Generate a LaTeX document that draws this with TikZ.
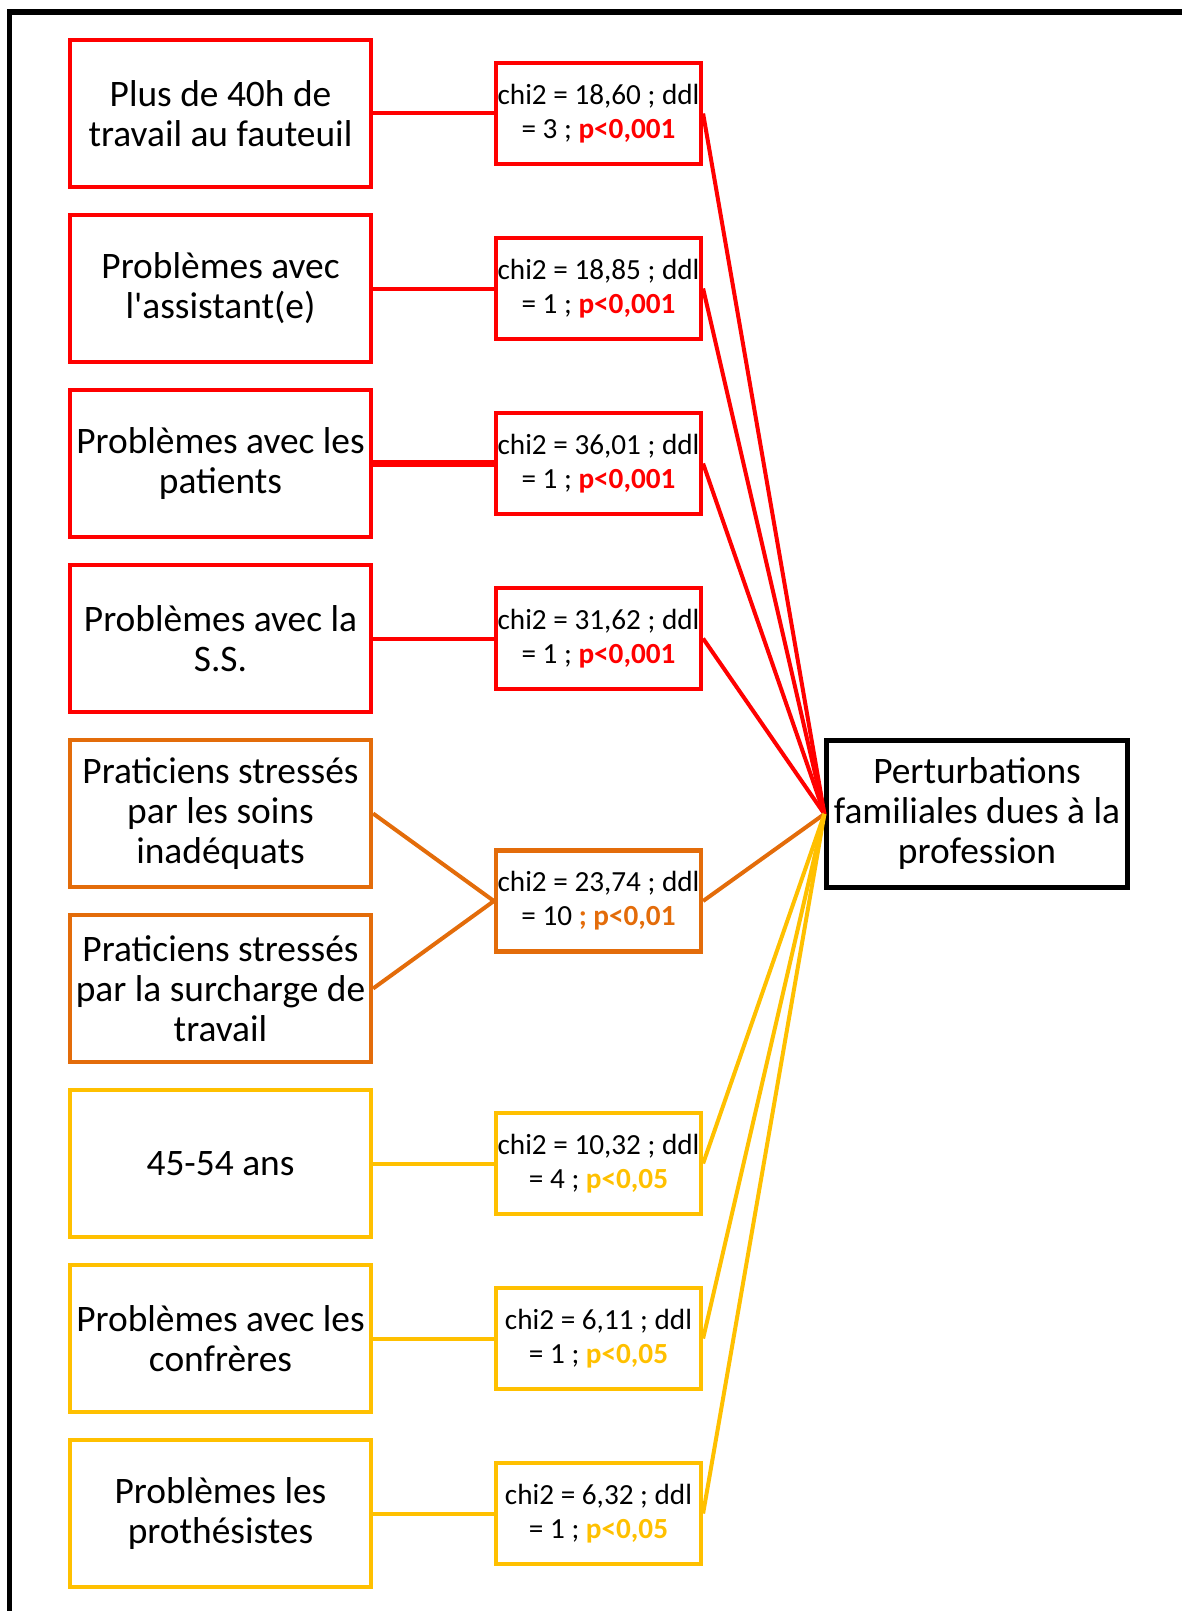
\documentclass[tikz,border=0pt]{standalone}
\usepackage{fontspec}
\setmainfont{Carlito}[Ligatures=TeXOff]
\usetikzlibrary{positioning}
\definecolor{sigRed}{HTML}{FF0000}
\definecolor{sigOrange}{HTML}{E36C0A}
\definecolor{sigGold}{HTML}{FFC000}
\tikzset{
  factor/.style={draw, line width=2.1pt, minimum width=150.5pt, minimum height=73.5pt,
    inner sep=0pt, align=center, font=\fontsize{18.7}{20}\selectfont},
  testbox/.style={draw, line width=2.1pt, minimum width=102.5pt, minimum height=50.5pt,
    inner sep=0pt, align=center, font=\fontsize{14.6}{17}\selectfont},
  link/.style={line width=2pt},
}
\newcommand{\pval}[2]{\textcolor{#1}{\textbf{#2}}}

\begin{document}
\begin{tikzpicture}[x=0.5pt, y=-0.5pt]
        \useasboundingbox (0,0) rectangle (1182,1611);
        % Outer frame (open to the right and bottom)
        \draw[line width=2.75pt] (9.5,1611) |- (1182,12);
        % Factors (left column)
        \node[factor, draw=sigRed] (f1) at (220.5,113.5) {Plus de 40h de\\travail au fauteuil};
        \node[factor, draw=sigRed] (f2) at (220.5,288.5) {Problèmes avec\\l'assistant(e)};
        \node[factor, draw=sigRed] (f3) at (220.5,463.5) {Problèmes avec les\\patients};
        \node[factor, draw=sigRed] (f4) at (220.5,638.5) {Problèmes avec la\\S.S.};
        \node[factor, draw=sigOrange] (f5) at (220.5,813.5) {Praticiens stressés\\par les soins\\inadéquats};
        \node[factor, draw=sigOrange] (f6) at (220.5,988.5) {Praticiens stressés\\par la surcharge de\\travail};
        \node[factor, draw=sigGold] (f7) at (220.5,1163.5) {45-54 ans};
        \node[factor, draw=sigGold] (f8) at (220.5,1338.5) {Problèmes avec les\\confrères};
        \node[factor, draw=sigGold] (f9) at (220.5,1513.5) {Problèmes les\\prothésistes};
        % Tests (middle column)
        \node[testbox, draw=sigRed] (t1) at (598.5,113.5) {chi2 = 18,60 ; ddl\\= 3 ; \pval{sigRed}{p<0,001}};
        \node[testbox, draw=sigRed] (t2) at (598.5,288.5) {chi2 = 18,85 ; ddl\\= 1 ; \pval{sigRed}{p<0,001}};
        \node[testbox, draw=sigRed] (t3) at (598.5,463.5) {chi2 = 36,01 ; ddl\\= 1 ; \pval{sigRed}{p<0,001}};
        \node[testbox, draw=sigRed] (t4) at (598.5,638.5) {chi2 = 31,62 ; ddl\\= 1 ; \pval{sigRed}{p<0,001}};
        \node[testbox, draw=sigOrange] (t5) at (598.5,901) {chi2 = 23,74 ; ddl\\= 10 \pval{sigOrange}{; p<0,01}};
        \node[testbox, draw=sigGold] (t6) at (598.5,1163.5) {chi2 = 10,32 ; ddl\\= 4 ; \pval{sigGold}{p<0,05}};
        \node[testbox, draw=sigGold] (t7) at (598.5,1338.5) {chi2 = 6,11 ; ddl\\= 1 ; \pval{sigGold}{p<0,05}};
        \node[testbox, draw=sigGold] (t8) at (598.5,1513.5) {chi2 = 6,32 ; ddl\\= 1 ; \pval{sigGold}{p<0,05}};
        % Outcome
        \node[factor, draw=black] (perturb) at (977,814) {Perturbations\\familiales dues à la\\profession};
        % Factor to test
        \draw[link, sigRed] (f1.east) -- (t1.west);
        \draw[link, sigRed] (f2.east) -- (t2.west);
        \draw[link, sigRed, line width=3.75pt] (f3.east) -- (t3.west);
        \draw[link, sigRed] (f4.east) -- (t4.west);
        \draw[link, sigOrange] (f5.east) -- (t5.west);
        \draw[link, sigOrange] (f6.east) -- (t5.west);
        \draw[link, sigGold] (f7.east) -- (t6.west);
        \draw[link, sigGold] (f8.east) -- (t7.west);
        \draw[link, sigGold] (f9.east) -- (t8.west);
        % Test to outcome
        \foreach \t/\c in {t1/sigRed, t2/sigRed, t3/sigRed, t4/sigRed, t5/sigOrange, t6/sigGold, t7/sigGold, t8/sigGold}
          \draw[link, \c] (\t.east) -- (perturb.west);
      \end{tikzpicture}
\end{document}
